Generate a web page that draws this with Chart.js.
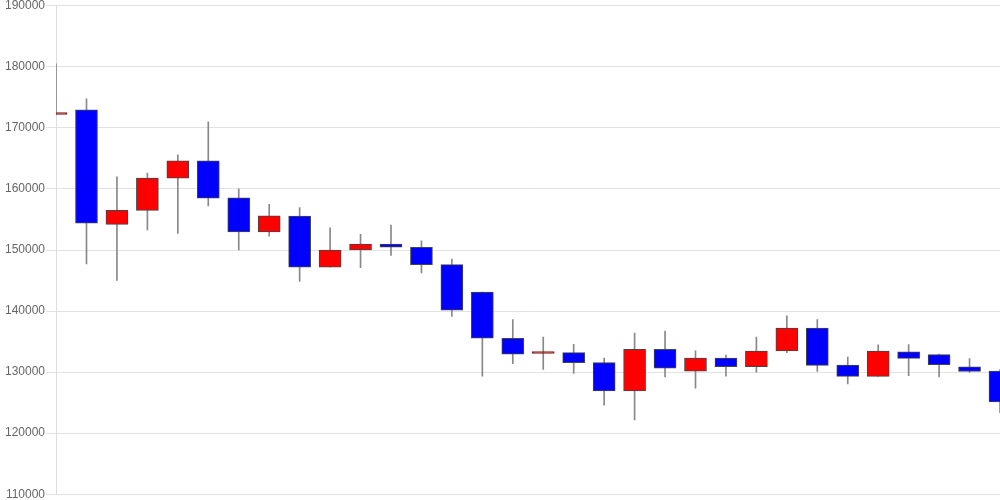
<!DOCTYPE html>
<html>
<head>
<meta charset="utf-8">
<script src="https://cdn.jsdelivr.net/npm/chart.js@4"></script>
<style>
  html, body { margin: 0; padding: 0; background: #fff; }
  #wrap { width: 1000px; height: 500px; }
</style>
</head>
<body>
<div id="wrap"><canvas id="candles"></canvas></div>
<script>
// candle data (oldest first)
const labels = Array.from({ length: 32 }, (_, i) => String(i + 1));
const openPrices  = [172200,172950,154200,156500,161750,164600,158550,152950,155550,147200,150000,150950,150450,147600,143100,135550,133050,133200,131550,126900,133750,130150,132300,130900,133450,137200,131150,129300,133300,132850,130850,130150];
const closePrices = [172200,154400,156500,161800,164600,158500,152950,155600,147200,150000,150950,150450,147600,140150,135550,132950,133050,131550,126900,133750,130650,132300,130900,133450,137200,131100,129300,133450,132250,131200,130100,125100];
const highPrices  = [180500,174750,162000,162600,165600,171000,160000,157500,156950,153650,152550,154100,151500,148500,143100,138600,135750,134550,132300,136400,136700,133500,132800,135750,139200,138600,132450,134450,134500,132950,132200,130400];
const lowPrices   = [172200,147700,145000,153300,152700,157200,150000,152250,144850,147200,147100,149100,146250,139100,129350,131400,130450,129800,124600,122150,129200,127350,129350,130000,133200,130100,128050,129300,129400,129200,129950,123350];

const yTicks = [110000, 120000, 130000, 140000, 150000, 160000, 170000, 180000, 190000];

const candleColor = (i) => {
  if (openPrices[i] === closePrices[i]) return '#8b1a1a';
  return closePrices[i] > openPrices[i] ? '#ff0000' : '#0000ff';
};

const bodies = labels.map((_, i) => [openPrices[i], closePrices[i]]);
const wicks = labels.map((_, i) => [lowPrices[i], highPrices[i]]);

new Chart(document.getElementById('candles'), {
  type: 'bar',
  data: {
    labels: labels,
    datasets: [
      {
        label: 'wick',
        data: wicks,
        backgroundColor: '#888888',
        borderWidth: 0,
        barThickness: 1,
        grouped: false,
        order: 2
      },
      {
        label: 'body',
        data: bodies,
        backgroundColor: labels.map((_, i) => candleColor(i)),
        borderColor: labels.map((_, i) => openPrices[i] === closePrices[i] ? '#8b1a1a' : '#444444'),
        borderWidth: 1,
        borderSkipped: false,
        barThickness: 22,
        minBarLength: 2,
        grouped: false,
        order: 1
      }
    ]
  },
  options: {
    responsive: true,
    maintainAspectRatio: false,
    animation: false,
    layout: { padding: { left: 4, top: 0, right: 0, bottom: 0 } },
    plugins: {
      legend: { display: false },
      tooltip: { enabled: false }
    },
    scales: {
      x: {
        display: false,
        offset: false
      },
      y: {
        min: yTicks[0],
        max: yTicks[yTicks.length - 1],
        afterBuildTicks: (axis) => { axis.ticks = yTicks.map(v => ({ value: v })); },
        grid: { color: '#e2e2e2', tickLength: 10 },
        border: { color: '#dddddd' },
        ticks: {
          color: '#666666',
          padding: 1,
          callback: (v) => String(v),
          font: { family: '"Liberation Sans", Arial, sans-serif', size: 12, lineHeight: 0.8 }
        }
      }
    }
  }
});
</script>
</body>
</html>
